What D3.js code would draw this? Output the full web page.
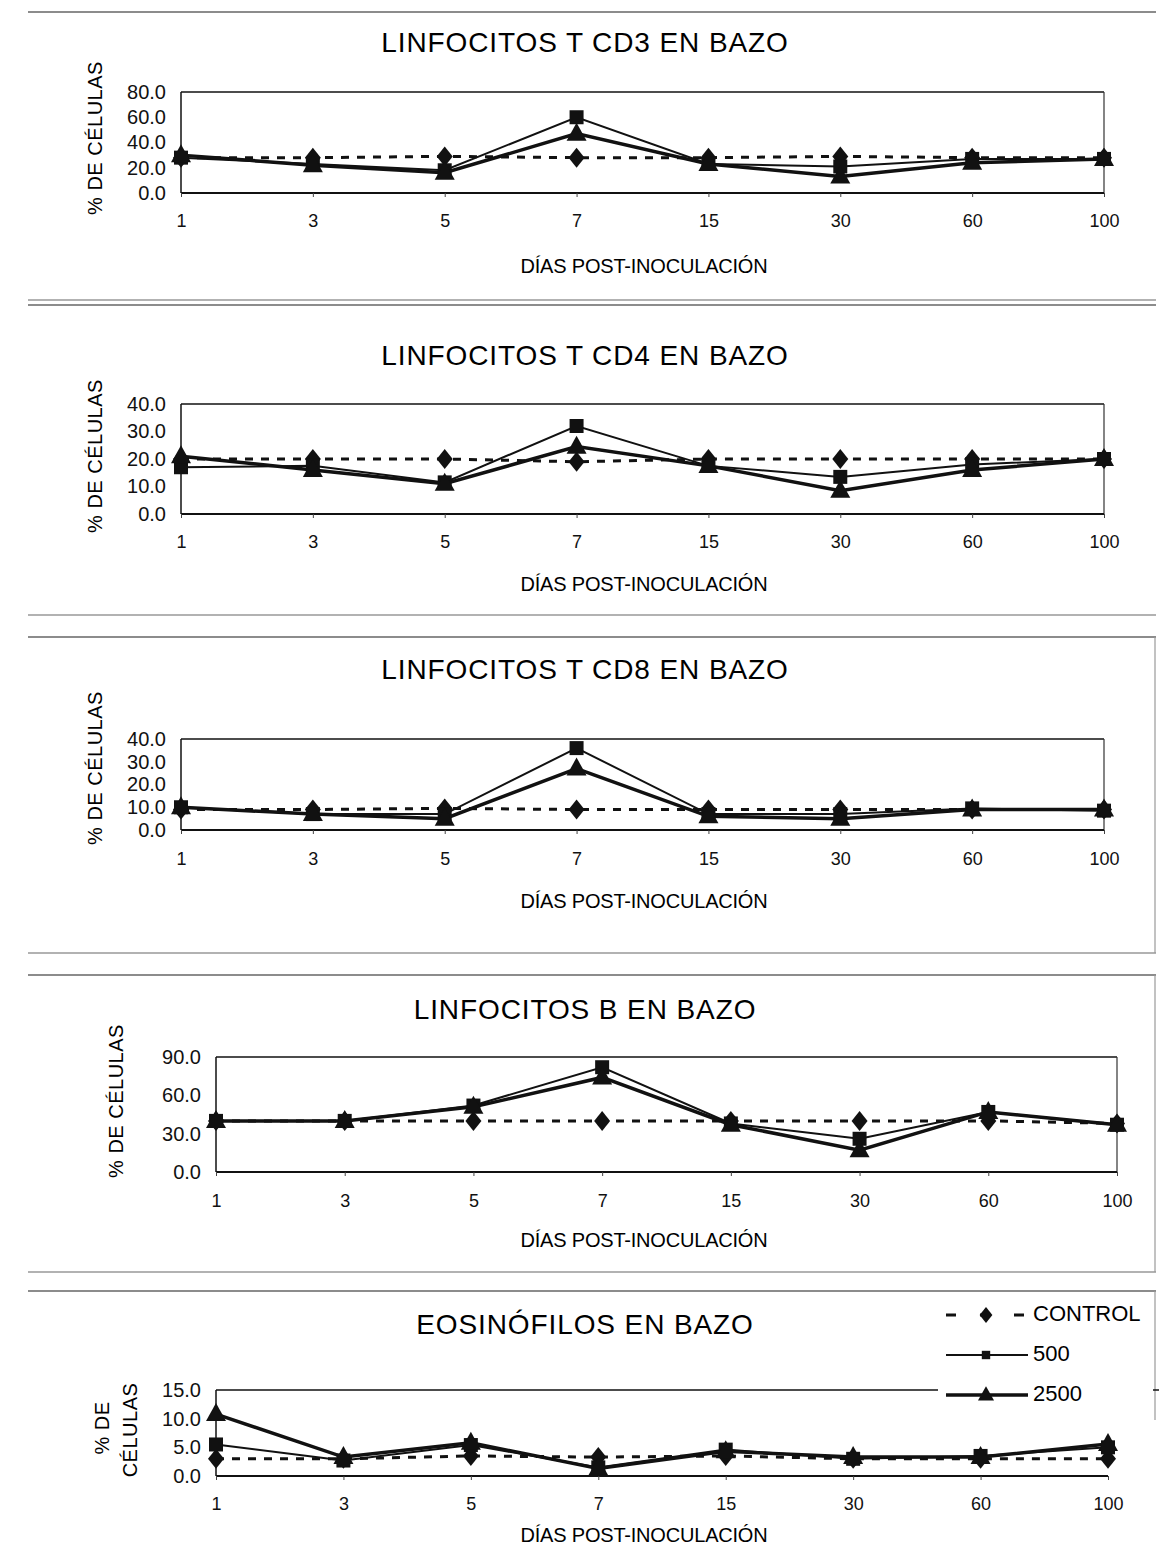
<!DOCTYPE html>
<html>
<head>
<meta charset="utf-8">
<script src="https://cdnjs.cloudflare.com/ajax/libs/d3/7.8.5/d3.min.js"></script>
<style>
  body { margin: 0; background: #fff; }
  svg { display: block; font-family: 'Liberation Sans', Arial, sans-serif; }
</style>
</head>
<body>
<script>
// categories (días post-inoculación)
const dias = ['1', '3', '5', '7', '15', '30', '60', '100'];
const serieNombres = ['CONTROL', '500', '2500'];

// linfocitos T CD3
const cd3Control = [28, 28, 29, 28, 28, 29, 28, 28];
const cd3Dosis500 = [28, 23, 18, 60, 23, 21, 27, 27];
const cd3Dosis2500 = [30, 22, 16, 47, 23, 13, 24, 27];

// linfocitos T CD4
const cd4Control = [20, 20, 20, 19, 20, 20, 20, 20];
const cd4Dosis500 = [17, 17.5, 11.5, 32, 17.5, 13.5, 18, 20];
const cd4Dosis2500 = [21, 16, 11, 24.5, 17.5, 8.5, 16, 20];

// linfocitos T CD8
const cd8Control = [9, 9, 9.5, 9, 9, 9, 9, 9];
const cd8Dosis500 = [10, 7, 7, 36, 7, 7, 9.5, 8.5];
const cd8Dosis2500 = [10, 7, 5, 27, 6, 5, 9, 9];

// linfocitos B
const linBControl = [40, 40, 40, 40, 40, 40, 40, 38];
const linBDosis500 = [40, 40, 52, 82, 38, 26, 47, 37];
const linBDosis2500 = [40, 40, 51, 74, 37, 17, 47, 37];

// eosinófilos
const eosControl = [3, 3, 3.5, 3.3, 3.5, 3, 3, 3];
const eosDosis500 = [5.5, 2.7, 5.4, 1.5, 4.6, 3, 3.5, 5];
const eosDosis2500 = [10.8, 3.3, 5.8, 1.3, 4.3, 3.3, 3.3, 5.6];

// y tick labels
const ticksCD3 = [0, 20, 40, 60, 80];
const ticksCD4 = [0, 10, 20, 30, 40];
const ticksCD8 = [0, 10, 20, 30, 40];
const ticksLinB = [0, 30, 60, 90];
const ticksEos = [0, 5, 10, 15];

const titulos = ['LINFOCITOS T CD3 EN BAZO', 'LINFOCITOS T CD4 EN BAZO',
  'LINFOCITOS T CD8 EN BAZO', 'LINFOCITOS B EN BAZO', 'EOSINÓFILOS EN BAZO'];

const W = 1159, H = 1559;
const svg = d3.select('body').append('svg')
  .attr('width', W)
  .attr('height', H);

// scanned page edges between panels
const bordes = [12, 300, 305, 615, 637, 953, 975, 1272, 1291];
svg.selectAll('line.borde')
  .data(bordes)
  .enter()
  .append('line')
  .attr('class', 'borde')
  .attr('x1', 28).attr('x2', 1156)
  .attr('y1', d => d).attr('y2', d => d)
  .attr('stroke', (d, i) => i % 2 ? '#999' : '#666')
  .attr('stroke-width', 1.6);
[[637, 953], [975, 1272], [1291, 1420]].forEach(function(r) {
  svg.append('line')
    .attr('x1', 1155).attr('x2', 1155)
    .attr('y1', r[0]).attr('y2', r[1])
    .attr('stroke', '#999').attr('stroke-width', 1.2);
});

// marker shapes (Excel style)
const marcas = {
  CONTROL: 'M0,-10L8,0L0,10L-8,0Z',
  '500': 'M-7,-7L7,-7L7,7L-7,7Z',
  '2500': 'M0,-11L10,7L-10,7Z'
};
const estilos = {
  CONTROL: { width: 3, dash: '8,8' },
  '500': { width: 2, dash: null },
  '2500': { width: 3.5, dash: null }
};

const paneles = [
  { series: [cd3Control, cd3Dosis500, cd3Dosis2500], ticks: ticksCD3, max: 80,
    titleY: 45, left: 181, right: 1104, top: 92, bottom: 193, tickGap: 21, xTitleY: 268,
    yTitle: [{ x: 97, y: 138 }] },
  { series: [cd4Control, cd4Dosis500, cd4Dosis2500], ticks: ticksCD4, max: 40,
    titleY: 358, left: 181, right: 1104, top: 404, bottom: 514, tickGap: 21, xTitleY: 586,
    yTitle: [{ x: 97, y: 456 }] },
  { series: [cd8Control, cd8Dosis500, cd8Dosis2500], ticks: ticksCD8, max: 40,
    titleY: 672, left: 181, right: 1104, top: 739, bottom: 830, tickGap: 22, xTitleY: 903,
    yTitle: [{ x: 97, y: 768 }] },
  { series: [linBControl, linBDosis500, linBDosis2500], ticks: ticksLinB, max: 90,
    titleY: 1012, left: 216, right: 1117, top: 1057, bottom: 1172, tickGap: 22, xTitleY: 1242,
    yTitle: [{ x: 118, y: 1101 }] },
  { series: [eosControl, eosDosis500, eosDosis2500], ticks: ticksEos, max: 15,
    titleY: 1327, left: 216, right: 1108, top: 1390, bottom: 1476, tickGap: 21, xTitleY: 1537,
    yTitle: [{ x: 104, y: 1428, text: '% DE' }, { x: 132, y: 1430, text: 'CÉLULAS' }],
    openRight: true, legend: true }
];

function drawPanel(p, idx) {
  const g = svg.append('g');
  const x = d3.scalePoint().domain(dias).range([p.left, p.right]);
  const y = d3.scaleLinear().domain([0, p.max]).range([p.bottom, p.top]);

  // title
  g.append('text')
    .attr('x', 585).attr('y', p.titleY)
    .attr('text-anchor', 'middle')
    .attr('dominant-baseline', 'middle')
    .attr('font-size', 28)
    .attr('letter-spacing', 0.9)
    .text(titulos[idx]);

  // plot area border
  g.append('line')
    .attr('x1', p.left).attr('x2', p.openRight ? W : p.right)
    .attr('y1', p.top).attr('y2', p.top)
    .attr('stroke', '#111').attr('stroke-width', 1.6);
  if (!p.openRight) {
    g.append('line')
      .attr('x1', p.right).attr('x2', p.right)
      .attr('y1', p.top).attr('y2', p.bottom)
      .attr('stroke', '#333').attr('stroke-width', 1.2);
  }
  g.append('line')
    .attr('x1', p.left).attr('x2', p.left)
    .attr('y1', p.top).attr('y2', p.bottom)
    .attr('stroke', '#111').attr('stroke-width', 1.5);
  g.append('line')
    .attr('x1', p.left).attr('x2', p.right)
    .attr('y1', p.bottom).attr('y2', p.bottom)
    .attr('stroke', '#111').attr('stroke-width', 2);

  // axes
  const yAxis = g.append('g')
    .attr('transform', 'translate(' + p.left + ',0)')
    .call(d3.axisLeft(y).tickValues(p.ticks).tickFormat(d3.format('.1f'))
      .tickSize(0).tickPadding(15));
  yAxis.select('.domain').remove();
  yAxis.selectAll('text').attr('font-size', 20).attr('fill', '#111')
    .attr('font-family', 'Liberation Sans, Arial, sans-serif');

  const xAxis = g.append('g')
    .attr('transform', 'translate(0,' + p.bottom + ')')
    .call(d3.axisBottom(x).tickSize(4).tickPadding(p.tickGap - 4));
  xAxis.select('.domain').remove();
  xAxis.selectAll('line').attr('stroke', '#444');
  xAxis.selectAll('text').attr('font-size', 18).attr('fill', '#111')
    .attr('font-family', 'Liberation Sans, Arial, sans-serif');

  // axis titles
  g.append('text')
    .attr('x', 644).attr('y', p.xTitleY)
    .attr('text-anchor', 'middle')
    .attr('dominant-baseline', 'middle')
    .attr('font-size', 20)
    .attr('letter-spacing', -0.2)
    .text('DÍAS POST-INOCULACIÓN');

  p.yTitle.forEach(function(t) {
    g.append('text')
      .attr('transform', 'translate(' + t.x + ',' + t.y + ') rotate(-90)')
      .attr('text-anchor', 'middle')
      .attr('dominant-baseline', 'middle')
      .attr('font-size', 20)
      .attr('letter-spacing', 0.5)
      .text(t.text || '% DE CÉLULAS');
  });

  // series: control, 500, 2500
  const linea = d3.line().x((d, i) => x(dias[i])).y(d => y(d));
  p.series.forEach(function(vals, s) {
    const nombre = serieNombres[s];
    const st = estilos[nombre];
    g.append('path')
      .datum(vals)
      .attr('d', linea)
      .attr('fill', 'none')
      .attr('stroke', '#111')
      .attr('stroke-width', st.width)
      .attr('stroke-dasharray', st.dash);
    g.selectAll('path.m' + s)
      .data(vals)
      .enter()
      .append('path')
      .attr('class', 'm' + s)
      .attr('d', marcas[nombre])
      .attr('transform', (d, i) => 'translate(' + x(dias[i]) + ',' + y(d) + ')')
      .attr('fill', '#111');
  });

  if (p.legend) drawLegend(g);
}

function drawLegend(g) {
  g.append('rect')
    .attr('x', 938).attr('y', 1295)
    .attr('width', 215).attr('height', 122)
    .attr('fill', '#fff');
  const leg = g.selectAll('g.leg')
    .data(serieNombres)
    .enter()
    .append('g')
    .attr('class', 'leg')
    .attr('transform', (d, i) => 'translate(0,' + (1315 + i * 40) + ')');
  leg.append('line')
    .attr('x1', 946).attr('x2', 1028)
    .attr('y1', 0).attr('y2', 0)
    .attr('stroke', '#111')
    .attr('stroke-width', d => estilos[d].width)
    .attr('stroke-dasharray', d => d === 'CONTROL' ? '10,24' : null);
  leg.append('path')
    .attr('d', d => marcas[d])
    .attr('transform', d => 'translate(986,0) scale(' + (d === '500' ? 0.6 : 0.8) + ')')
    .attr('fill', '#111');
  leg.append('text')
    .attr('x', 1033).attr('y', 0)
    .attr('dominant-baseline', 'middle')
    .attr('font-size', 22)
    .text(d => d);
}

paneles.forEach(drawPanel);
</script>
</body>
</html>
